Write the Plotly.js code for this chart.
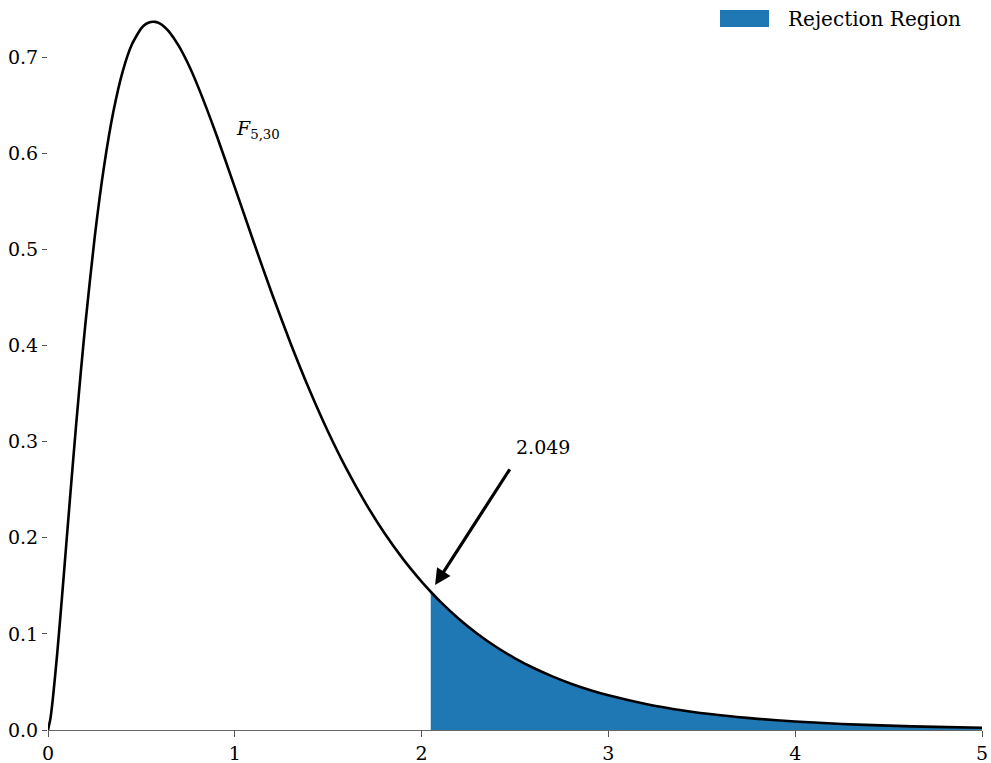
<!DOCTYPE html>
<html>
<head>
<meta charset="utf-8">
<script src="https://cdn.plot.ly/plotly-3.0.1.min.js"></script>
<style>
  html, body { margin: 0; padding: 0; background: #fff; }
  #chart { width: 991px; height: 763px; }
</style>
</head>
<body>
<div id="chart"></div>
<script>
// F(5, 30) density: x positions and density values
const xVals = [0, 0.0125, 0.025, 0.05, 0.075, 0.1, 0.125, 0.15, 0.175, 0.2, 0.25, 0.3, 0.35, 0.4, 0.45, 0.5, 0.525, 0.55, 0.575, 0.6, 0.625, 0.65, 0.7, 0.75, 0.8, 0.9,
  1.0, 1.1, 1.2, 1.3, 1.4, 1.5, 1.6, 1.7, 1.8, 1.9, 2.0, 2.049, 2.1, 2.2, 2.3, 2.4, 2.5, 2.6, 2.7, 2.8, 2.9,
  3.0, 3.2, 3.4, 3.6, 3.8, 4.0, 4.25, 4.5, 4.75, 5.0];
const density = [0, 0.0113, 0.0308, 0.0810, 0.1385, 0.1984, 0.2582, 0.3160, 0.3709, 0.4222, 0.5127, 0.5863, 0.6433, 0.6852, 0.7135, 0.7301, 0.7345, 0.7365, 0.7366, 0.7347, 0.7310, 0.7259, 0.7116, 0.6930, 0.6708, 0.6200,
  0.5645, 0.5081, 0.4533, 0.4016, 0.3537, 0.3100, 0.2708, 0.2360, 0.2051, 0.1780, 0.1543, 0.1438, 0.1335, 0.1155, 0.0999, 0.0863, 0.0746, 0.0645, 0.0558, 0.0482, 0.0417,
  0.0361, 0.0271, 0.0203, 0.0153, 0.0116, 0.0088, 0.0063, 0.0045, 0.0032, 0.0023];

// critical value of the test and its label
const criticalValue = 2.049;
const criticalLabel = '2.049';
const curveLabel = '<i>F</i><sub>5,30</sub>';
const legendLabel = 'Rejection Region';

// axis ticks
const xTickVals = [0, 1, 2, 3, 4, 5];
const xTickText = ['0', '1', '2', '3', '4', '5'];
const yTickVals = [0, 0.1, 0.2, 0.3, 0.4, 0.5, 0.6, 0.7];
const yTickText = ['0.0', '0.1', '0.2', '0.3', '0.4', '0.5', '0.6', '0.7'];

const fillColor = '#1f77b4';
const serif = 'DejaVu Serif, serif';

// tail region x >= critical value
const tailX = [], tailY = [];
xVals.forEach((x, i) => { if (x >= criticalValue) { tailX.push(x); tailY.push(density[i]); } });
const critY = density[xVals.indexOf(criticalValue)];

const traces = [
  {
    x: tailX, y: tailY, type: 'scatter', mode: 'lines',
    fill: 'tozeroy', fillcolor: fillColor,
    line: { width: 0, color: fillColor, shape: 'spline', smoothing: 0.6 },
    hoverinfo: 'skip', showlegend: false
  },
  {
    x: xVals, y: density, type: 'scatter', mode: 'lines',
    line: { color: '#000', width: 2.6, shape: 'spline', smoothing: 0.6 },
    showlegend: false
  }
];

const layout = {
  width: 991, height: 763,
  margin: { l: 48, r: 9, t: 6, b: 33 },
  paper_bgcolor: '#fff', plot_bgcolor: '#fff',
  font: { family: serif, size: 19, color: '#000' },
  showlegend: false,
  xaxis: {
    range: [0, 5], tickvals: xTickVals, ticktext: xTickText,
    showgrid: false, zeroline: false,
    showline: true, linecolor: '#666', linewidth: 1.2,
    ticks: 'outside', ticklen: 6, tickcolor: '#555', tickwidth: 1,
    tickfont: { family: serif, size: 19, color: '#000' }
  },
  yaxis: {
    range: [0, 0.7531], tickvals: yTickVals, ticktext: yTickText,
    showgrid: false, zeroline: false, showline: false,
    ticks: 'outside', ticklen: 5, tickcolor: '#555', tickwidth: 1,
    tickfont: { family: serif, size: 19, color: '#000' }
  },
  shapes: [
    // legend swatch
    { type: 'rect', xref: 'paper', yref: 'paper',
      x0: (720 - 48) / 934, x1: (769 - 48) / 934,
      y0: (730 - 27) / 724, y1: (730 - 10) / 724,
      fillcolor: fillColor, line: { width: 0 } }
  ],
  annotations: [
    // legend text
    { xref: 'paper', yref: 'paper', x: (786 - 48) / 934, y: (730 - 19) / 724,
      xanchor: 'left', yanchor: 'middle', showarrow: false,
      text: legendLabel, font: { family: serif, size: 20, color: '#000' } },
    // curve label
    { xref: 'x', yref: 'y', x: 0.995, y: 0.625, xanchor: 'left', yanchor: 'middle',
      showarrow: false, text: curveLabel, font: { family: serif, size: 19, color: '#000' } },
    // arrow to the critical value
    { xref: 'x', yref: 'y', x: criticalValue, y: critY,
      text: '', showarrow: true,
      ax: 80, ay: -124, arrowhead: 2, arrowsize: 1, arrowwidth: 3.2,
      arrowcolor: '#000', standoff: 8 },
    // critical value text
    { xref: 'x', yref: 'y', x: 2.494, y: 0.2944, xanchor: 'left', yanchor: 'middle',
      showarrow: false, text: criticalLabel, font: { family: serif, size: 19, color: '#000' } }
  ]
};

Plotly.newPlot('chart', traces, layout, { displayModeBar: false, staticPlot: true });
</script>
</body>
</html>
